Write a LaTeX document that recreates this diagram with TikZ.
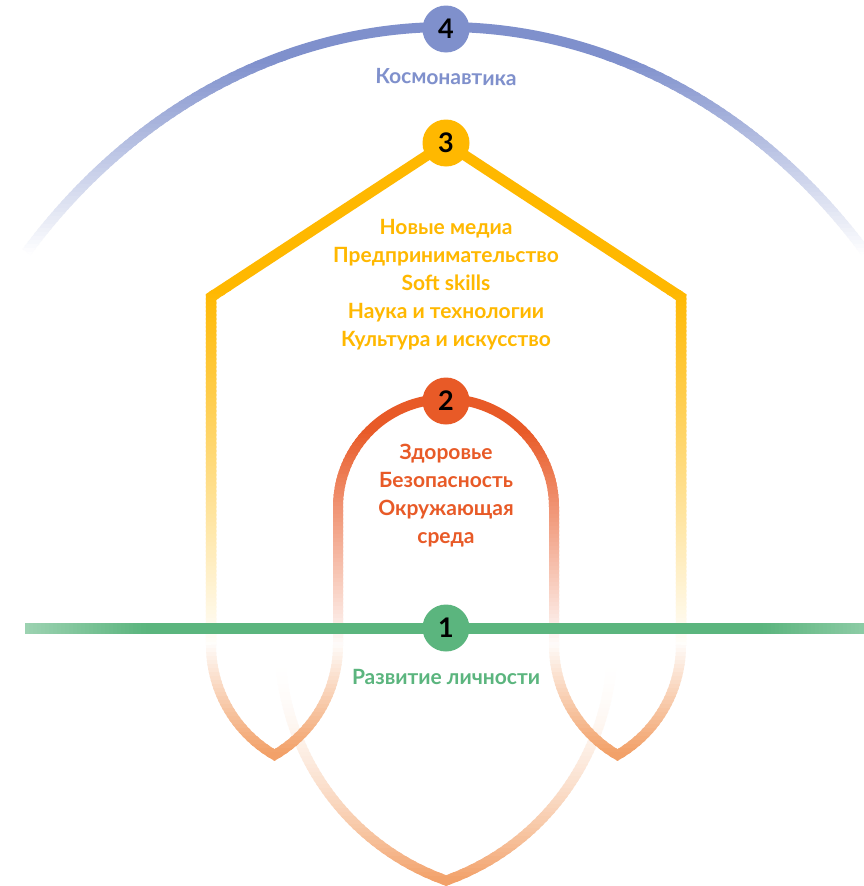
\documentclass[tikz,border=0pt]{standalone}
\usepackage{fontspec}
\setmainfont{Lato}
\definecolor{cB}{HTML}{7F90CC}
\definecolor{cY}{HTML}{FFB800}
\definecolor{cO}{HTML}{E85A27}
\definecolor{cP}{HTML}{F2A169}
\definecolor{cG}{HTML}{5BB57E}
\newcommand\bluearc[1]{\draw[line width=10, color=#1] (446,-694) ++(138.5:560 and 667) arc[start angle=138.5, end angle=41.5, x radius=560, y radius=667];}
\newcommand\yhouse[1]{\draw[line width=10.5, color=#1, line join=miter] (211,-645) -- (211,-297) -- (446,-143) -- (681,-297) -- (681,-645);}
\newcommand\oarch[1]{\draw[line width=10, color=#1] (338,-645) -- (338,-507) arc[start angle=180, end angle=0, radius=108] -- (554,-645);}
\newcommand\lenses[1]{\draw[line width=10, color=#1, line join=miter]
  (211,-645) arc[start angle=180, end angle=240, radius=127] arc[start angle=-60, end angle=0, radius=127]
  (554,-645) arc[start angle=180, end angle=240, radius=127] arc[start angle=-60, end angle=0, radius=127];}
\newcommand\bigv[1]{\draw[line width=10, color=#1, line join=miter]
  (280,-645) arc[start angle=180, end angle=250.4, radius=250] arc[start angle=-70.4, end angle=0, radius=250];}
\begin{document}
\begin{tikzpicture}[x=1pt,y=1pt,
  num/.style={circle, minimum size=47pt, inner sep=0pt, font=\fontsize{27}{27}\selectfont\bfseries, text=black},
  lbl/.style={font=\fontsize{21}{28}\selectfont\bfseries, align=center}]
\useasboundingbox (0,0) rectangle (864,-886);
\fill[white] (0,0) rectangle (864,-886);
% blue arc
\begin{scope}\clip (0,0) rectangle (864,-61); \bluearc{cB} \end{scope}
\foreach \k in {0,...,48} {
  \pgfmathsetmacro\ya{60+4*\k}
  \pgfmathsetmacro\p{max(0,min(100,(255-\ya-2)/1.95))}
  \begin{scope}\clip (0,-\ya) rectangle (864,-\ya-5); \bluearc{cB!\p!white} \end{scope}
}
% yellow house
\begin{scope}\clip (0,-100) rectangle (864,-291); \yhouse{cY} \end{scope}
\foreach \k in {0,...,89} {
  \pgfmathsetmacro\ya{290+4*\k}
  \pgfmathsetmacro\p{max(0,min(100,(650-\ya-2)/3.6))}
  \begin{scope}\clip (0,-\ya) rectangle (864,-\ya-5); \yhouse{cY!\p!white} \end{scope}
}
% orange arch
\begin{scope}\clip (0,-370) rectangle (864,-431); \oarch{cO} \end{scope}
\foreach \k in {0,...,54} {
  \pgfmathsetmacro\ya{430+4*\k}
  \pgfmathsetmacro\p{max(0,min(100,(650-\ya-2)/2.2))}
  \begin{scope}\clip (0,-\ya) rectangle (864,-\ya-5); \oarch{cO!\p!white} \end{scope}
}
% big V
\foreach \k in {0,...,61} {
  \pgfmathsetmacro\ya{640+4*\k}
  \pgfmathsetmacro\t{max(0,min(1,(\ya+2-655)/225))}
  \pgfmathsetmacro\p{100*\t*\t}
  \begin{scope}\clip (0,-\ya) rectangle (864,-\ya-5); \bigv{cP!\p!white} \end{scope}
}
% lenses
\foreach \k in {0,...,31} {
  \pgfmathsetmacro\ya{640+4*\k}
  \pgfmathsetmacro\p{max(0,min(100,(\ya+2-640)/1.12))}
  \begin{scope}\clip (0,-\ya) rectangle (864,-\ya-5); \lenses{cP!\p!white} \end{scope}
}
% green line
\fill[cG] (140,-623) rectangle (765,-634);
\foreach \k in {0,...,29} {
  \pgfmathsetmacro\xa{25+4*\k}
  \pgfmathsetmacro\p{60+40*(\xa+2-25)/120}
  \fill[cG!\p!white] (\xa,-623) rectangle (\xa+5,-634);
}
\foreach \k in {0,...,25} {
  \pgfmathsetmacro\xa{764+4*\k}
  \pgfmathsetmacro\p{max(70,100-30*(\xa+2-764)/100)}
  \fill[cG!\p!white] (\xa-1,-623) rectangle (\xa+4,-634);
}
% circles
\node[num, fill=cB] (n4) at (446,-29) {4};
\node[num, fill=cY] (n3) at (446,-143) {3};
\node[num, fill=cO] (n2) at (446,-401) {2};
\node[num, fill=cG] (n1) at (446,-628) {1};
% labels
\node[lbl, text=cB, rotate=-1] (t4) at (446,-77) {Космонавтика};
\node[lbl, text=cY] (t3) at (446,-285) {Новые медиа\\Предпринимательство\\Soft skills\\Наука и технологии\\Культура и искусство};
\node[lbl, text=cO] (t2) at (446,-496) {Здоровье\\Безопасность\\Окружающая\\среда};
\node[lbl, text=cG] (t1) at (446,-677) {Развитие личности};
\end{tikzpicture}
\end{document}
